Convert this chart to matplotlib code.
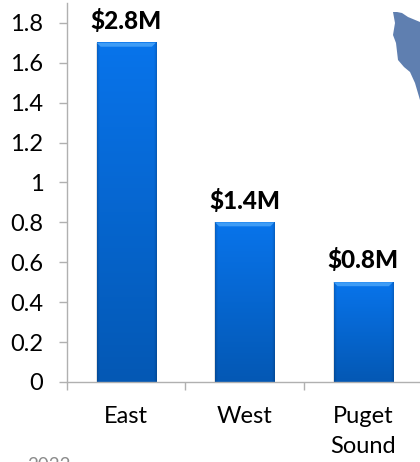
import matplotlib.pyplot as plot
from matplotlib.patches import Polygon
import numpy

categories = ["East", "West", "Puget\nSound"]
values = [1.7, 0.8, 0.5]
bar_labels = ["$2.8M", "$1.4M", "$0.8M"]
yticks = [0, 0.2, 0.4, 0.6, 0.8, 1, 1.2, 1.4, 1.6, 1.8]
ytick_labels = ["0", "0.2", "0.4", "0.6", "0.8", "1", "1.2", "1.4", "1.6", "1.8"]
map_x = [393, 397, 402, 408, 420, 420, 415, 410, 404, 398, 396, 393, 395, 393]
map_y = [12, 12, 13, 17, 22, 100, 83, 72, 67, 60, 43, 35, 23, 12]

W, H = 420, 462
plot.rcParams["font.family"] = ["Lato", "DejaVu Sans"]
fig = plot.figure(figsize=(W/100, H/100), dpi=100)
axis = fig.add_axes([67/W, (H-382)/H, (W-67)/W, 379.2/H])

top_color = numpy.array([8, 116, 235])/255
bottom_color = numpy.array([4, 88, 180])/255
bar_width = 0.5

# soft shadow under the bars, the gradient goes on top of it
axis.bar(range(3), values, bar_width+0.012, color="#e4e4e4", linewidth=0, zorder=1)

for i, v in enumerate(values):
    left = i-bar_width/2
    right = i+bar_width/2
    rows = max(int(v*200), 2)
    t = numpy.linspace(0, 1, rows)[:, None, None]
    img = numpy.repeat(top_color*(1-t)+bottom_color*t, 60, axis=1)
    edge = numpy.ones(60)
    edge[:3] = [0.85, 0.92, 0.97]
    edge[-3:] = [0.97, 0.92, 0.85]
    img = img*edge[None, :, None]
    axis.imshow(img, extent=(left, right, 0, v), origin="upper", aspect="auto", zorder=2)
    # lighter bevel along the top of the bar
    dx = 4/118.5
    dy = 4/199.6
    axis.add_patch(Polygon([(left, v), (right, v), (right-dx, v-dy), (left+dx, v-dy)],
                           closed=True, color="#3e9cf6", linewidth=0, zorder=3))
    axis.annotate(bar_labels[i], (i, v), xytext=(0, 7), textcoords="offset points",
                  ha="center", va="bottom", fontsize=17.5, fontweight="black", color="#000000")

axis.set_xlim(-0.5, 2.479)
axis.set_ylim(0, 1.9)
axis.set_xticks([-0.5, 0.5, 1.5])
axis.set_xticklabels([])
axis.set_xticks(range(3), categories, minor=True)
axis.set_yticks(yticks, ytick_labels)
for label in axis.get_xticklabels(minor=True):
    label.set_linespacing(1.55)
axis.spines["top"].set_visible(False)
axis.spines["right"].set_visible(False)
axis.spines["left"].set_color("#b0b0b0")
axis.spines["bottom"].set_color("#b0b0b0")
axis.spines["left"].set_linewidth(1)
axis.spines["bottom"].set_linewidth(1)
axis.tick_params(axis="y", length=6, width=1, color="#b0b0b0", pad=11, labelsize=17)
axis.tick_params(axis="x", which="major", length=6, width=1, color="#b0b0b0")
axis.tick_params(axis="x", which="minor", length=0, pad=17, labelsize=17)

# corner of the map behind the chart, in pixel positions
fig.add_artist(Polygon(numpy.column_stack([numpy.array(map_x)/W, 1-numpy.array(map_y)/H]),
                       closed=True, transform=fig.transFigure, color="#5f7fb0", linewidth=0))
fig.text(49/W, 1-471/H, "2022", ha="center", va="baseline", fontsize=13.5, color="#8c8c8c")

fig.savefig("out.png", dpi=100)
